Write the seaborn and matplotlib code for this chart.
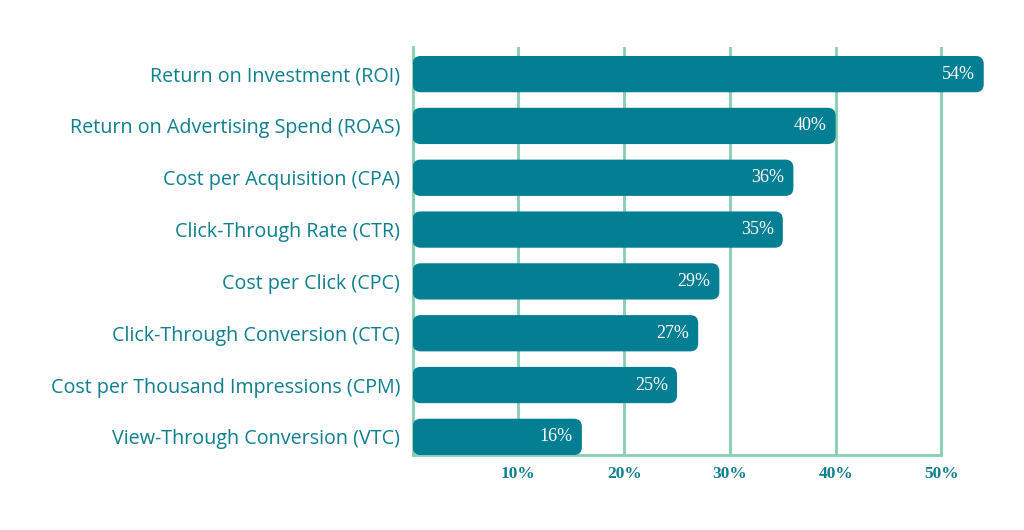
import matplotlib
matplotlib.use('Agg')
import matplotlib.pyplot as plt
import pandas as pd
import seaborn as sns
from matplotlib.patches import FancyBboxPatch

metrics = [
    'Return on Investment (ROI)',
    'Return on Advertising Spend (ROAS)',
    'Cost per Acquisition (CPA)',
    'Click-Through Rate (CTR)',
    'Cost per Click (CPC)',
    'Click-Through Conversion (CTC)',
    'Cost per Thousand Impressions (CPM)',
    'View-Through Conversion (VTC)',
]
values = [54, 40, 36, 35, 29, 27, 25, 16]
x_ticks = [10, 20, 30, 40, 50]

bar_color = '#037e93'
grid_color = '#86cfb0'
text_color = '#0d7f8f'

df = pd.DataFrame({'metric': metrics, 'value': values})

sns.set_style('white')
plt.rcParams['font.family'] = ['Open Sans', 'DejaVu Sans']

fig = plt.figure(figsize=(10.24, 5.30), dpi=100)
ax = fig.add_axes([0.403, 0.1415, 0.568, 0.7695])

sns.barplot(data=df, x='value', y='metric', color=bar_color, width=0.7,
            saturation=1, ax=ax, zorder=3)

ax.set_xlim(0, 55)
ax.set_ylim(7.35, -0.52)

# swap plain bars for rounded ones
px_x = 10.57
px_y = 51.7
rad = 8 / px_x
for p in list(ax.patches):
    x0, y0 = p.get_x(), p.get_y()
    w, h = p.get_width(), p.get_height()
    rb = FancyBboxPatch((x0, y0), w, h,
                        boxstyle=f'round,pad=0,rounding_size={rad}',
                        mutation_aspect=(8 / px_y) / rad,
                        facecolor=bar_color, edgecolor='none', zorder=3)
    p.remove()
    ax.add_patch(rb)

serif = ['Liberation Serif', 'DejaVu Serif']
for i, v in enumerate(values):
    ax.text(v - 0.85, i, f'{v}%', ha='right', va='center', color='white',
            fontsize=13, family=serif, zorder=4)

ax.set_xticks(x_ticks)
ax.set_xticklabels([f'{t}%' for t in x_ticks], color=text_color, fontsize=12.5,
                   fontweight='bold', family=serif)
ax.tick_params(axis='x', length=0, pad=8)
ax.tick_params(axis='y', length=0, pad=9)
for lab in ax.get_yticklabels():
    lab.set_color(text_color)
    lab.set_fontsize(14.2)

ax.grid(axis='x', color=grid_color, linewidth=2, zorder=0)
ax.grid(axis='y', visible=False)
ax.set_xlabel('')
ax.set_ylabel('')

ax.spines['top'].set_visible(False)
ax.spines['right'].set_visible(False)
ax.spines['left'].set_color(grid_color)
ax.spines['left'].set_linewidth(2)
ax.spines['bottom'].set_color(grid_color)
ax.spines['bottom'].set_linewidth(2)
ax.spines['bottom'].set_bounds(0, 50)

fig.savefig('out.png', dpi=100)
